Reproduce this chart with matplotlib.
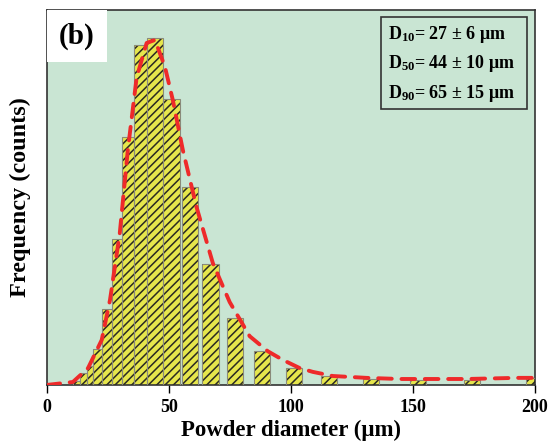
import numpy as np
import matplotlib.pyplot as plt
from matplotlib.patches import Rectangle

# bins (um) and counts
bin_left = [11.0, 13.7, 16.4, 19.2, 22.6, 26.7, 30.8, 35.8, 41.2, 47.8,
            55.3, 63.6, 73.7, 84.9, 98.0, 112.3, 129.5, 148.7, 170.9, 196.4]
bin_right = [13.7, 16.4, 19.2, 22.6, 26.7, 30.8, 35.8, 41.2, 47.8, 54.6,
             62.1, 70.6, 80.5, 91.7, 104.8, 119.1, 136.2, 155.5, 177.3, 203.2]
counts = [1.0, 3.2, 5.0, 9.6, 20.3, 38.9, 66.1, 90.7, 92.5, 76.3,
          52.8, 32.3, 17.9, 9.1, 4.5, 2.4, 1.6, 1.3, 1.3, 1.9]

# fitted distribution (dashed red)
fit_x = [0, 10.8, 17, 22.6, 26, 30, 33.3, 36.9, 41, 44.4, 48.5, 51.7, 55.8,
         61.4, 68.1, 75, 83.2, 90.6, 96.7, 103.7, 109, 117.2, 131, 144.6,
         158.1, 172, 192.4, 200]
fit_y = [0, 0.8, 4.5, 12, 22.7, 40.5, 62.7, 82, 91.2, 92, 84.8, 76, 62.7,
         47.5, 32.5, 22.1, 13, 9, 6.7, 4.5, 3.5, 2.4, 1.9, 1.6,
         1.6, 1.6, 1.9, 1.9]

xticks = [0, 50, 100, 150, 200]
stats = [r'$\mathrm{D}_{10}$= 27 ± 6 μm',
         r'$\mathrm{D}_{50}$= 44 ± 10 μm',
         r'$\mathrm{D}_{90}$= 65 ± 15 μm']

plt.rcParams['font.family'] = 'Liberation Serif'
plt.rcParams['font.weight'] = 'bold'
plt.rcParams['mathtext.fontset'] = 'custom'
plt.rcParams['mathtext.rm'] = 'Liberation Serif:bold'
plt.rcParams['mathtext.it'] = 'Liberation Serif:bold'
plt.rcParams['mathtext.bf'] = 'Liberation Serif:bold'
plt.rcParams['hatch.linewidth'] = 1.1

fig = plt.figure(figsize=(5.53, 4.44), dpi=100)
ax = fig.add_axes([0.0841, 0.1329, 0.8834, 0.8446])
ax.set_facecolor('#c9e5d3')

left = np.array(bin_left)
width = np.array(bin_right) - left
ax.bar(left, counts, width=width, align='edge', color='#e6e64c', linewidth=0, zorder=2)
ax.bar(left, counts, width=width, align='edge', color='none', edgecolor='#2a2a22',
       hatch='////', linewidth=0, zorder=3)
ax.bar(left, counts, width=width, align='edge', color='none', edgecolor='#8a8a7a',
       linewidth=0.8, zorder=4)

ax.plot(fit_x, fit_y, color='#ee2a2a', lw=2.8, dashes=(3.5, 2.5), zorder=5,
        solid_capstyle='round', dash_capstyle='round')

ax.set_xlim(0, 200)
ax.set_ylim(0, 100)
ax.set_xticks(xticks)
ax.set_yticks([])
ax.tick_params(axis='x', direction='out', length=6, width=1, labelsize=13, pad=4)
for s in ax.spines.values():
    s.set_color('#333333')
    s.set_linewidth(1.2)

ax.set_xlabel('Powder diameter (μm)', fontsize=16.5, fontweight='bold', labelpad=3)
ax.set_ylabel('Frequency (counts)', fontsize=17.5, fontweight='bold', labelpad=11)

# panel label
ax.add_patch(Rectangle((0, 0.861), 0.124, 0.139, transform=ax.transAxes,
                       facecolor='white', edgecolor='none', zorder=6))
ax.text(0.062, 0.93, '(b)', transform=ax.transAxes, fontsize=21, fontweight='bold',
        ha='center', va='center', zorder=7)

# statistics box
ax.add_patch(Rectangle((0.684, 0.736), 0.299, 0.245, transform=ax.transAxes,
                       facecolor='#c9e5d3', edgecolor='#333333', lw=1.2, zorder=6))
for i, s in enumerate(stats):
    ax.text(0.70, 0.935 - i * 0.079, s, transform=ax.transAxes, fontsize=13,
            fontweight='bold', ha='left', va='center', zorder=7)

fig.savefig('out.png', dpi=100)
